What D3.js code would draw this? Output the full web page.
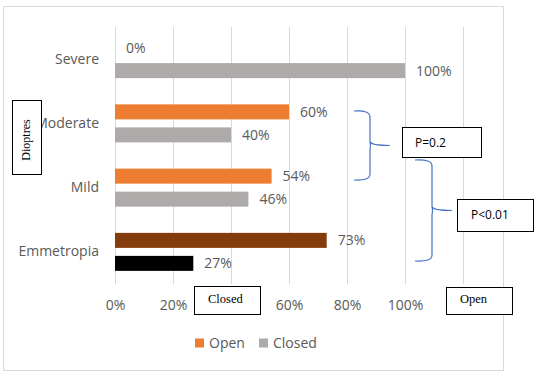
<!DOCTYPE html>
<html>
<head>
<meta charset="utf-8">
<script src="https://cdn.jsdelivr.net/npm/d3@7"></script>
<style>
  body { margin: 0; background: #fff; }
  svg { display: block; }
</style>
</head>
<body>
<div class="chart_bar"></div>
<script>
// data
var categories = ["Severe", "Moderate", "Mild", "Emmetropia"];
var openValues = [0, 0.60, 0.54, 0.73];
var closedValues = [1.00, 0.40, 0.46, 0.27];
var xTicks = [0, 0.2, 0.4, 0.6, 0.8, 1.0, 1.2];
// 40% and 120% labels sit under the "Closed" / "Open" boxes in the original
var xTickLabels = [0, 0.2, 0.6, 0.8, 1.0];
var seriesNames = ["Open", "Closed"];

var width = 538, height = 378;
var margin = {top: 27, right: 75, bottom: 94, left: 115};
var w = width - margin.left - margin.right,
    h = height - margin.top - margin.bottom;

var svg = d3.select('.chart_bar').append("svg")
  .attr("width", width)
  .attr("height", height);

// outer chart frame
svg.append("rect")
  .attr("x", 3.5).attr("y", 6.5)
  .attr("width", 500).attr("height", 364)
  .attr("fill", "#fff")
  .attr("stroke", "#d9d9d9");

var g = svg.append("g")
  .attr("transform", "translate(" + margin.left + "," + margin.top + ")");

var x = d3.scaleLinear().domain([0, 1.2]).range([0, w]);
var y = d3.scaleBand().domain(categories).range([0, h]);

var fontFam = "'Open Sans', 'Liberation Sans', sans-serif";
var textCol = "#595959";

// gridlines
g.append("g").selectAll("line")
  .data(xTicks)
  .enter().append("line")
  .attr("x1", function(d) { return Math.round(x(d)) + 0.5; })
  .attr("x2", function(d) { return Math.round(x(d)) + 0.5; })
  .attr("y1", 0).attr("y2", h)
  .attr("stroke", "#d9d9d9");

// x axis labels
var xAxis = g.append("g")
  .attr("transform", "translate(0," + h + ")")
  .call(d3.axisBottom(x).tickValues(xTickLabels).tickSize(0).tickPadding(16).tickFormat(d3.format(".0%")));
xAxis.select(".domain").remove();
xAxis.selectAll("text")
  .attr("font-family", fontFam).attr("font-size", 14).attr("fill", textCol);

// y axis labels
var yAxis = g.append("g")
  .call(d3.axisLeft(y).tickSize(0).tickPadding(16));
yAxis.select(".domain").remove();
yAxis.selectAll("text")
  .attr("font-family", fontFam).attr("font-size", 14).attr("fill", textCol);

var barH = 15;
var openCol = function(i) { return categories[i] === "Emmetropia" ? "#843c0c" : "#ed7d31"; };
var closedCol = function(i) { return categories[i] === "Emmetropia" ? "#000000" : "#aeaaaa"; };

function centre(c) { return y(c) + y.bandwidth() / 2; }

// open bars
g.append("g").selectAll("rect")
  .data(openValues)
  .enter().append("rect")
  .attr("x", x(0))
  .attr("y", function(d, i) { return centre(categories[i]) - 19; })
  .attr("width", function(d) { return x(d) - x(0); })
  .attr("height", barH)
  .attr("fill", function(d, i) { return openCol(i); });

// closed bars
g.append("g").selectAll("rect")
  .data(closedValues)
  .enter().append("rect")
  .attr("x", x(0))
  .attr("y", function(d, i) { return centre(categories[i]) + 4; })
  .attr("width", function(d) { return x(d) - x(0); })
  .attr("height", barH)
  .attr("fill", function(d, i) { return closedCol(i); });

// value labels
function addLabels(vals, dy) {
  g.append("g").selectAll("text")
    .data(vals)
    .enter().append("text")
    .attr("x", function(d) { return x(d) + 11; })
    .attr("y", function(d, i) { return centre(categories[i]) + dy + barH / 2; })
    .attr("dy", "0.35em")
    .attr("font-family", fontFam).attr("font-size", 14).attr("fill", textCol)
    .text(function(d) { return d3.format(".0%")(d); });
}
addLabels(openValues, -19);
addLabels(closedValues, 4);

// legend
var legend = svg.append("g").attr("transform", "translate(0,343)");
var legX = [195, 259];
var legCol = ["#ed7d31", "#aeaaaa"];
seriesNames.forEach(function(s, i) {
  legend.append("rect").attr("x", legX[i]).attr("y", -4.5).attr("width", 9).attr("height", 9).attr("fill", legCol[i]);
  legend.append("text").attr("x", legX[i] + 14).attr("y", 0).attr("dy", "0.35em")
    .attr("font-family", fontFam).attr("font-size", 14).attr("fill", textCol).text(s);
});

// annotation boxes
var serif = "'Liberation Serif', 'DejaVu Serif', serif";
function box(x0, y0, bw, bh) {
  svg.append("rect").attr("x", x0 + 0.5).attr("y", y0 + 0.5)
    .attr("width", bw).attr("height", bh)
    .attr("fill", "#fff").attr("stroke", "#000").attr("stroke-width", 1);
}

box(12, 100, 29, 74);
svg.append("text")
  .attr("transform", "translate(30,140) rotate(-90)")
  .attr("text-anchor", "middle")
  .attr("font-family", serif).attr("font-size", 12).attr("fill", "#000")
  .text("Dioptres");

box(194, 286, 66, 28);
svg.append("text").attr("x", 208).attr("y", 299).attr("dy", "0.35em")
  .attr("font-family", serif).attr("font-size", 12.5).attr("fill", "#000").text("Closed");

box(446, 287, 66, 27);
svg.append("text").attr("x", 460).attr("y", 299).attr("dy", "0.35em")
  .attr("font-family", serif).attr("font-size", 12.5).attr("fill", "#000").text("Open");

box(402, 127, 79, 30);
svg.append("text").attr("x", 415).attr("y", 143).attr("dy", "0.35em")
  .attr("font-family", fontFam).attr("font-size", 12).attr("fill", "#000").text("P=0.2");

box(457, 199, 76, 32);
svg.append("text").attr("x", 471).attr("y", 215).attr("dy", "0.35em")
  .attr("font-family", fontFam).attr("font-size", 12).attr("fill", "#000").text("P<0.01");

// curly braces
function brace(tipX, topY, botY, spineX, midX) {
  var midY = (topY + botY) / 2;
  var p = d3.path();
  p.moveTo(tipX, topY);
  p.quadraticCurveTo(spineX, topY - 1, spineX, topY + 6);
  p.lineTo(spineX, midY - 4);
  p.quadraticCurveTo(spineX + 1, midY, midX, midY);
  p.moveTo(spineX, midY - 4);
  p.quadraticCurveTo(spineX + 1, midY, spineX, midY + 4);
  p.lineTo(spineX, botY - 6);
  p.quadraticCurveTo(spineX, botY + 1, tipX, botY);
  svg.append("path").attr("d", p.toString())
    .attr("fill", "none").attr("stroke", "#4472c4").attr("stroke-width", 1.2);
}
brace(354, 111, 180, 370, 390);
brace(415, 160, 261, 432, 452);
</script>
</body>
</html>
